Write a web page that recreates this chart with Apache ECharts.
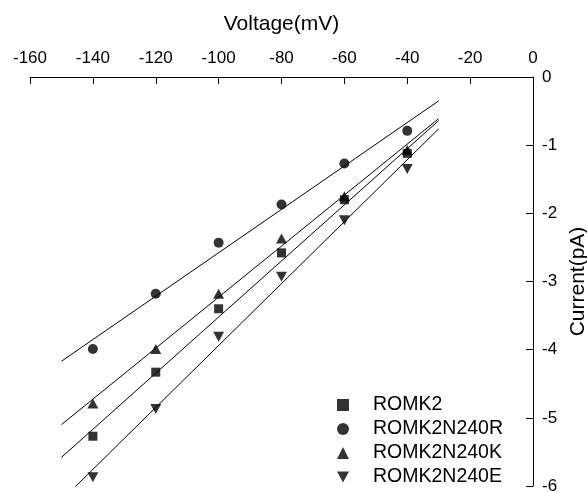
<!DOCTYPE html>
<html>
<head>
<meta charset="utf-8">
<script src="https://cdn.jsdelivr.net/npm/echarts@6/dist/echarts.min.js"></script>
<style>
  html, body { margin: 0; padding: 0; background: #fff; }
  #chartContainer { width: 587px; height: 492px; }
</style>
</head>
<body>
<div id="chartContainer"></div>
<script>
// measured points
const voltage = [-140, -120, -100, -80, -60, -40];
const romk2 = [-5.27, -4.33, -3.40, -2.58, -1.80, -1.12];
const romk2N240R = [-3.99, -3.18, -2.43, -1.87, -1.27, -0.79];
const romk2N240K = [-4.79, -3.99, -3.18, -2.37, -1.75, -1.07];
const romk2N240E = [-5.87, -4.87, -3.81, -2.93, -2.10, -1.35];

// fitted lines, endpoints
const fitVoltage = [-150, -30];
const fitRomk2 = [-5.58, -0.64];
const fitR = [-4.17, -0.35];
const fitK = [-5.10, -0.61];
const fitE = [-6.21, -0.76];

const seriesNames = ["ROMK2", "ROMK2N240R", "ROMK2N240K", "ROMK2N240E"];
const xTicks = { min: -160, max: 0, interval: 20 };
const yTicks = { min: -6, max: 0, interval: 1 };

const downTri = "path://M0,0L10,0L5,9Z";
const symbols = ["rect", "circle", "triangle", downTri];
const symbolSizes = [9, 10, [11, 10], [11, 10]];
const pointSets = [romk2, romk2N240R, romk2N240K, romk2N240E];
const fitSets = [fitRomk2, fitR, fitK, fitE];

const font = "Liberation Sans, Arial, sans-serif";

function pairs(xs, ys) {
  return xs.map((x, i) => [x, ys[i]]);
}

function seriesData() {
  let tempList = [];
  fitSets.forEach((item, index) => {
    tempList.push({
      name: "fit" + index,
      type: "line",
      data: pairs(fitVoltage, item),
      symbol: "none",
      lineStyle: { color: "#000", width: 1 },
      silent: true,
      z: 1
    });
  });
  pointSets.forEach((item, index) => {
    tempList.push({
      name: seriesNames[index],
      type: "scatter",
      data: pairs(voltage, item),
      symbol: symbols[index],
      symbolSize: symbolSizes[index],
      itemStyle: { color: "#000" },
      z: 3
    });
  });
  return tempList;
}

const myChart = echarts.init(document.getElementById("chartContainer"));
myChart.setOption({
  animation: false,
  textStyle: { fontFamily: font },
  grid: { left: 30, right: 54, top: 77, bottom: 6, containLabel: false, outerBoundsMode: "none" },
  legend: {
    orient: "vertical",
    left: 337,
    top: 395,
    padding: 0,
    itemWidth: 12,
    itemHeight: 12,
    itemGap: 4,
    data: seriesNames.map((n, i) => ({ name: n, icon: symbols[i] })),
    textStyle: { fontSize: 19.5, lineHeight: 20, color: "#000", fontFamily: font, padding: [0, 0, 0, 19] }
  },
  xAxis: {
    type: "value",
    position: "top",
    min: xTicks.min,
    max: xTicks.max,
    interval: xTicks.interval,
    name: "Voltage(mV)",
    nameLocation: "middle",
    nameGap: 42,
    nameTextStyle: { fontSize: 21, color: "#000", fontFamily: font },
    axisLine: { show: true, onZero: false, lineStyle: { color: "#000", width: 1 } },
    axisTick: { show: true, inside: true, length: 7, lineStyle: { color: "#000" } },
    axisLabel: { color: "#000", fontSize: 17, margin: 10, fontFamily: font },
    splitLine: { show: false }
  },
  yAxis: {
    type: "value",
    position: "right",
    min: yTicks.min,
    max: yTicks.max,
    interval: yTicks.interval,
    name: "Current(pA)",
    nameLocation: "middle",
    nameGap: 29,
    nameRotate: 90,
    nameTextStyle: { fontSize: 21, color: "#000", fontFamily: font },
    axisLine: { show: true, onZero: false, lineStyle: { color: "#000", width: 1 } },
    axisTick: { show: true, inside: true, length: 7, lineStyle: { color: "#000" } },
    axisLabel: { color: "#000", fontSize: 17, margin: 9, fontFamily: font },
    splitLine: { show: false }
  },
  series: seriesData()
});
</script>
</body>
</html>
